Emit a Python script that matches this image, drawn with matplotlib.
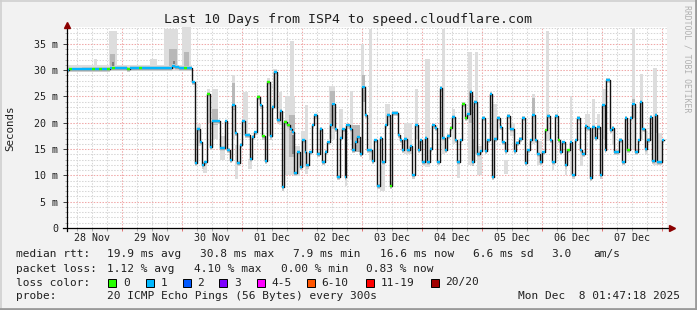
import datetime as dt
import matplotlib
matplotlib.use("Agg")
import matplotlib.pyplot as plt
import matplotlib.dates as mdates
from matplotlib.patches import Rectangle
from matplotlib.lines import Line2D
from matplotlib.transforms import blended_transform_factory

# --- data --------------------------------------------------------------
start = dt.datetime(2025, 11, 28, 1, 47, 18)
span_hours = 240

# hourly-ish median steps: start (hours after start), median (ms), loss (pings lost)
step_hours = [
    0.0, 1.0, 2.0, 6.0, 10.3, 11.2, 13.0, 14.0, 16.3, 17.2, 18.2, 19.2, 24.2, 25.2,
    29.0, 30.0, 42.0, 43.5, 45.0, 47.0, 48.0,
    50.0, 51.3, 52.1, 53.2, 54.0, 55.1, 56.1, 57.3, 58.2, 61.2, 63.3, 64.1, 65.2,
    66.0, 67.3, 68.1, 69.2, 70.0, 71.3, 73.4, 74.2, 75.0, 76.1, 77.4, 78.2, 79.3,
    80.1, 81.4, 82.2, 83.0, 84.1, 85.2, 86.0, 87.1, 88.1, 89.2, 90.0, 91.1, 92.1,
    93.4, 94.2, 95.3, 95.8, 97.1, 98.0, 99.1, 100.1, 101.2, 102.0, 103.3, 104.1,
    105.2, 106.0, 107.3, 108.1, 109.2, 110.0, 111.3, 111.8, 113.2, 114.2, 115.3,
    116.1, 117.2, 118.0, 119.3, 120.1, 122.2, 123.0, 124.1, 125.2, 126.2, 127.3,
    128.1, 129.4, 130.2, 132.4, 133.4, 134.2, 135.0, 136.1, 137.2, 138.2, 139.3,
    140.4, 141.2, 142.0, 143.3, 144.1, 145.2, 146.0, 147.3, 148.1, 149.2, 150.2,
    151.3, 152.1, 153.4, 154.2, 155.3, 156.1, 157.2, 158.0, 159.3, 160.1, 161.2,
    162.2, 163.0, 164.1, 165.2, 166.0, 167.3, 168.1, 169.2, 170.0, 171.0, 172.1,
    173.2, 174.2, 175.3, 176.1, 177.4, 179.0, 179.8, 180.9, 182.0, 183.3, 184.1,
    185.2, 186.2, 187.3, 188.1, 189.4, 190.2, 191.3, 192.1, 193.2, 194.0, 195.3,
    196.4, 197.2, 198.2, 199.3, 200.1, 201.2, 202.0, 203.3, 204.1, 205.4, 206.2,
    207.3, 208.1, 209.2, 210.0, 211.3, 212.1, 213.2, 214.0, 215.3, 215.8, 217.2,
    218.0, 219.0, 220.9, 222.0, 223.3, 224.1, 225.4, 226.2, 227.3, 228.4, 229.2,
    230.2, 231.3, 232.1, 233.2, 234.2, 235.3, 236.1, 238.0,
]
last_hour = 239.0
median_ms = [
    30.1, 30.2, 30.2, 30.3, 30.3, 30.3, 30.3, 30.3, 30.3, 30.4, 30.5, 30.4, 30.3, 30.4,
    30.4, 30.4, 30.8, 30.6, 30.4, 30.5, 30.5,
    27.7, 12.4, 18.9, 16.3, 11.9, 12.5, 25.5, 15.4, 20.3, 15.2, 20.3, 14.9, 12.9,
    23.3, 18.1, 12.4, 15.8, 20.3, 17.7, 13.1, 17.3, 18.2, 24.9, 23.3, 17.4, 12.7,
    27.7, 17.4, 23.0, 29.7, 20.6, 22.3, 7.7, 20.2, 19.5, 18.8, 18.3, 10.4, 14.5,
    11.6, 16.7, 14.4, 11.9, 14.4, 19.5, 21.4, 14.1, 18.9, 12.6, 14.5, 16.3,
    19.5, 23.6, 18.8, 9.7, 17.1, 18.8, 9.7, 19.5, 18.8, 14.8, 16.3,
    17.2, 14.1, 26.8, 21.5, 14.8, 12.7, 16.7, 8.0, 17.1, 12.5, 19.5,
    21.5, 8.0, 21.9, 17.7, 16.8, 14.8, 17.0, 14.8, 15.5, 10.0, 19.6,
    14.8, 16.7, 12.5, 17.1, 12.5, 15.1, 19.5, 19.0, 12.5, 26.6, 17.1,
    14.8, 17.5, 19.0, 21.1, 16.7, 12.6, 16.7, 23.6, 20.9, 21.7, 25.9,
    12.6, 24.0, 14.1, 14.6, 20.9, 14.6, 16.7, 25.5, 9.7, 17.0, 20.9,
    19.2, 16.3, 14.6, 21.3, 18.8, 14.6, 16.2, 17.0, 20.9, 12.4, 14.8,
    16.7, 21.4, 16.7, 14.1, 12.5, 14.4, 18.6, 21.3, 16.7, 12.5, 21.3,
    16.7, 14.5, 16.3, 11.9, 14.8, 16.3, 10.0, 16.7, 20.9, 14.8, 14.1,
    19.4, 19.0, 9.5, 19.2, 17.1, 19.2, 10.0, 23.3, 14.8, 28.2, 18.6,
    19.0, 14.5, 16.8, 12.5, 20.9, 14.8, 20.9, 23.6, 14.5, 16.7, 24.0,
    18.8, 15.0, 16.8, 21.1, 12.7, 21.5, 12.5, 16.7,
]
loss = [
    1, 0, 1, 1, 0, 1, 0, 1, 0, 1, 0, 1, 0, 1,
    0, 1, 1, 1, 1, 0, 1,
    1, 1, 1, 1, 1, 1, 0, 1, 1, 1, 1, 1, 1,
    1, 1, 1, 1, 1, 1, 1, 1, 1, 0, 1, 0, 1,
    0, 1, 1, 1, 1, 1, 1, 0, 0, 1, 1, 1, 1,
    1, 1, 1, 1, 1, 1, 1, 1, 1, 1, 1, 1,
    1, 1, 1, 1, 1, 1, 1, 1, 1, 1, 1,
    1, 1, 1, 1, 1, 1, 1, 1, 1, 1, 1,
    1, 0, 1, 1, 1, 1, 1, 1, 1, 1, 1,
    1, 1, 1, 1, 1, 1, 1, 1, 1, 1, 1,
    1, 1, 0, 1, 1, 1, 1, 0, 0, 1, 1,
    1, 1, 1, 1, 1, 1, 1, 1, 1, 1, 1,
    1, 1, 1, 1, 1, 1, 1, 1, 1, 1, 1,
    1, 1, 1, 1, 1, 1, 0, 1, 1, 1, 1,
    0, 1, 1, 1, 0, 1, 1, 1, 1, 1, 1,
    1, 1, 1, 1, 1, 1, 1, 1, 1, 1, 1,
    1, 1, 1, 1, 1, 0, 1, 1, 1, 1, 1,
    1, 1, 1, 1, 1, 1, 1, 1,
]

# ping spread ("smoke"): from hour, to hour, low ms, high ms, density (0 light .. 2 dense)
smoke_from = [0, 10.8, 17.0, 17.5, 18.0, 33.3, 39.0, 41.0, 42.5, 46.0, 47.0,
              52.1, 54.7, 56.1, 58.0, 58.0, 61.2, 66.0, 66.0, 67.3, 70.7, 72.7,
              80.1, 82.6, 84.9, 87.3, 89.5, 89.0, 90.0, 91.3, 93.7, 95.3, 105.0, 105.5,
              109.0, 111.3, 113.2, 114.2, 117.6, 118.0, 120.8, 125.5, 127.3, 129.4,
              135.0, 139.3, 143.3, 150.0, 154.0, 156.1, 160.6, 161.0, 162.2, 163.2,
              164.1, 170.5, 175.0, 177.4, 186.2, 186.2, 188.1, 191.6, 194.0, 199.3,
              201.2, 205.4, 207.3, 210.0, 212.1, 214.0, 218.0, 226.0, 226.2, 229.2,
              231.3, 234.7, 235.3, 236.1]
smoke_to = [50, 12.0, 20.0, 19.5, 19.0, 36.0, 44.5, 44.0, 43.5, 49.8, 49.0,
            53.8, 56.0, 57.3, 60.7, 60.7, 63.3, 67.3, 67.3, 68.6, 72.7, 74.0,
            81.4, 84.0, 86.2, 91.3, 90.9, 91.3, 91.3, 93.3, 95.3, 96.6, 107.3, 107.3,
            110.5, 112.0, 114.5, 117.2, 118.8, 119.3, 122.2, 127.3, 129.4, 130.2,
            138.0, 140.4, 145.3, 151.3, 155.3, 157.2, 162.2, 162.2, 163.0, 164.4,
            166.0, 172.0, 176.5, 179.5, 187.3, 187.3, 190.2, 193.0, 195.0, 200.3,
            202.3, 206.4, 209.2, 211.3, 213.2, 216.0, 219.2, 227.3, 227.3, 230.5,
            232.5, 236.0, 236.0, 238.0]
smoke_lo = [29.8, 30.0, 30.0, 30.4, 30.4, 30.0, 30.0, 30.5, 30.7, 30.0, 30.5,
            15.5, 10.4, 20.0, 17.0, 19.5, 13.0, 17.0, 22.5, 9.4, 17.6, 11.3,
            17.4, 22.7, 19.5, 10.0, 21.0, 13.5, 14.0, 9.8, 11.5, 10.3, 17.0, 18.8,
            17.0, 8.0, 17.0, 14.5, 14.0, 24.0, 13.0, 7.0, 19.5, 7.5,
            14.0, 17.0, 11.5, 14.0, 16.0, 9.5, 12.0, 20.0, 11.8, 14.0,
            10.0, 17.0, 10.3, 17.5, 16.0, 21.4, 12.0, 16.5, 11.0, 10.0,
            10.0, 11.8, 18.5, 17.0, 19.0, 17.0, 15.7, 15.0, 21.0, 17.0,
            14.0, 12.0, 18.0, 12.0]
smoke_hi = [31.0, 32.2, 37.5, 33.0, 31.5, 32.2, 37.8, 34.0, 31.8, 38.2, 33.5,
            19.8, 12.5, 26.5, 26.4, 22.7, 17.5, 29.0, 27.5, 15.7, 25.8, 13.1,
            28.5, 30.2, 25.8, 25.0, 35.6, 21.5, 18.0, 15.5, 18.5, 23.3, 27.0, 26.1,
            22.7, 10.5, 26.1, 19.5, 35.0, 29.0, 37.8, 12.0, 23.5, 9.0,
            20.0, 26.5, 32.1, 37.8, 22.7, 13.0, 33.5, 26.0, 17.0, 33.4,
            15.5, 23.6, 13.0, 20.0, 25.5, 24.8, 16.5, 37.5, 12.5, 12.0,
            25.1, 14.5, 21.7, 24.6, 21.7, 26.4, 18.8, 37.8, 24.5, 29.3,
            18.5, 30.5, 21.5, 18.0]
smoke_density = [0, 0, 0, 1, 2, 0, 0, 1, 2, 0, 1,
                 0, 0, 0, 0, 1, 0, 0, 1, 0, 0, 0,
                 0, 0, 0, 0, 0, 1, 2, 0, 0, 0, 0, 1,
                 0, 0, 0, 1, 0, 1, 0, 0, 0, 0,
                 0, 0, 0, 0, 0, 0, 0, 1, 1, 0,
                 0, 0, 0, 0, 0, 1, 0, 0, 0, 0,
                 0, 0, 0, 0, 0, 0, 0, 0, 1, 0,
                 0, 0, 1, 0]

loss_labels = ['0', '1', '2', '3', '4-5', '6-10', '11-19', '20/20']
loss_colors = ['#26ff00', '#00b8ff', '#0059ff', '#7e00ff',
               '#ff00ff', '#ff5500', '#ff0000', '#a10000']
day_labels = ['28 Nov', '29 Nov', '30 Nov', '01 Dec', '02 Dec',
              '03 Dec', '04 Dec', '05 Dec', '06 Dec', '07 Dec']
y_ticks = [0, 5, 10, 15, 20, 25, 30, 35]

stats_rtt = ['19.9 ms avg', '30.8 ms max', '7.9 ms min', '16.6 ms now',
             '6.6 ms sd', '3.0', 'am/s']
stats_loss = ['1.12 % avg', '4.10 % max', '0.00 % min', '0.83 % now']
probe_text = '20 ICMP Echo Pings (56 Bytes) every 300s'
stamp_text = 'Mon Dec  8 01:47:18 2025'

# --- drawing ------------------------------------------------------------
W, H = 697, 310
MONO = 'DejaVu Sans Mono'
BG = '#f2f2f2'


def fx(px):
    return px / W


def fy(py):
    return 1 - py / H


def to_num(hours):
    return mdates.date2num(start) + hours / 24.0


fig = plt.figure(figsize=(W / 100, H / 100), dpi=100, facecolor=BG)
ax = fig.add_axes([fx(66.7), fy(228), fx(600), 201 / H])
ax.set_facecolor('white')

t0 = to_num(0)
t1 = to_num(span_hours)
ax.set_xlim(t0, t1)
ax.set_ylim(0, 38.2)

# grid
midnights = [mdates.date2num(dt.datetime(2025, 11, 29) + dt.timedelta(days=i)) for i in range(10)]
six_hours = [mdates.date2num(dt.datetime(2025, 11, 28, 6) + dt.timedelta(hours=6 * i)) for i in range(40)]
six_hours = [t for t in six_hours if t0 < t < t1 and t not in midnights]
ax.set_xticks(midnights)
ax.set_xticks(six_hours, minor=True)
ax.set_xticklabels([])
ax.set_yticks(y_ticks)
ax.set_yticks(range(0, 39), minor=True)
ax.set_yticklabels(['0' if v == 0 else f'{v} m' for v in y_ticks],
                   family=MONO, fontsize=7.2, color='#202020')
ax.grid(which='major', color='#f0a8a8', lw=0.75, ls=(0, (1.4, 1.4)))
ax.grid(which='minor', color='#d6d6d6', lw=0.75, ls=(0, (1.4, 1.4)))
ax.set_axisbelow(True)
ax.tick_params(axis='y', which='major', length=3, width=0.7, color='#404040', pad=3)
ax.tick_params(axis='y', which='minor', length=1.5, width=0.5, color='#909090')
ax.tick_params(axis='x', which='major', length=2.5, width=0.7, color='#e07070')
ax.tick_params(axis='x', which='minor', length=2, width=0.6, color='#a0a0a0')
for s in ax.spines.values():
    s.set_visible(False)

# smoke
shade = ['#dddddd', '#b8b8b8', '#808080']
for lvl in range(3):
    for h0, h1, lo, hi, d in zip(smoke_from, smoke_to, smoke_lo, smoke_hi, smoke_density):
        if d == lvl:
            ax.bar(to_num(h0), hi - lo, width=(h1 - h0) / 24, bottom=lo,
                   align='edge', color=shade[lvl], lw=0, zorder=2)

ends = step_hours[1:] + [last_hour]
starts_num = [to_num(h) for h in step_hours]
widths = [(e - s) / 24 for s, e in zip(step_hours, ends)]
# dense pings right around each median
ax.bar(starts_num, [0.9] * len(median_ms), width=widths,
       bottom=[v - 0.6 for v in median_ms], align='edge', color='#cdcdcd', lw=0, zorder=2.5)

# median line
xs = starts_num + [to_num(last_hour)]
ys = median_ms + [median_ms[-1]]
ax.step(xs, ys, where='post', color='#111111', lw=1.0, zorder=3)
ax.hlines(median_ms, starts_num, [to_num(e) for e in ends],
          colors=[loss_colors[l] for l in loss], lw=1.7, zorder=4)

# axes with arrows
ax.plot([-0.006, 1.004], [0, 0], color='black', lw=0.9, transform=ax.transAxes,
        clip_on=False, zorder=5)
ax.plot([0, 0], [-0.015, 1.0], color='black', lw=0.9, transform=ax.transAxes,
        clip_on=False, zorder=5)
ax.plot(1.009, 0, marker='>', ms=4.5, color='#8b0000', mec='#8b0000',
        transform=ax.transAxes, clip_on=False, zorder=6)
ax.plot(0, 1.012, marker='^', ms=4.5, color='#8b0000', mec='#8b0000',
        transform=ax.transAxes, clip_on=False, zorder=6)

# day labels centred on noon
trans = blended_transform_factory(ax.transData, ax.transAxes)
for i, lab in enumerate(day_labels):
    noon = mdates.date2num(dt.datetime(2025, 11, 28, 12) + dt.timedelta(days=i))
    ax.text(noon, -0.05, lab, transform=trans, ha='center', va='center',
            family=MONO, fontsize=7.2, color='#202020')

# titles
fig.text(fx(348), fy(19), 'Last 10 Days from ISP4 to speed.cloudflare.com',
         ha='center', va='center', family=MONO, fontsize=9.5, color='#202020')
fig.text(fx(10), fy(128), 'Seconds', rotation=90, ha='center', va='center',
         family=MONO, fontsize=7.8, color='#202020')
fig.text(fx(687), fy(59), 'RRDTOOL / TOBI OETIKER', rotation=270, ha='center',
         va='center', family=MONO, fontsize=5.9, color='#b0b0b0')

# legend rows
txt = dict(family=MONO, fontsize=8, color='#202020', va='center', ha='left')
rtt_x = [107, 200, 293, 380, 473, 551, 593]
fig.text(fx(16), fy(254), 'median rtt:', **txt)
for x, s in zip(rtt_x, stats_rtt):
    fig.text(fx(x), fy(254), s, **txt)
loss_x = [107, 194, 281, 366]
fig.text(fx(16), fy(268.5), 'packet loss:', **txt)
for x, s in zip(loss_x, stats_loss):
    fig.text(fx(x), fy(268.5), s, **txt)
fig.text(fx(16), fy(282.5), 'loss color:', **txt)
box_x = [108.3, 145.7, 182.7, 219.3, 256.7, 306.7, 365.7, 430.7]
for x, lab, col in zip(box_x, loss_labels, loss_colors):
    fig.add_artist(Rectangle((fx(x), fy(286.5)), 8 / W, 8 / H, facecolor=col,
                             edgecolor='black', lw=0.7, transform=fig.transFigure))
    fig.text(fx(x + 14.7), fy(282.5), lab, **txt)
fig.text(fx(16), fy(296), 'probe:', **txt)
fig.text(fx(107), fy(296), probe_text, **txt)
fig.text(fx(680), fy(296), stamp_text, **{**txt, 'ha': 'right'})

# 3D frame
fig.add_artist(Line2D([0, 1], [fy(0.5), fy(0.5)], color='#d0d0d0', lw=1.2, transform=fig.transFigure))
fig.add_artist(Line2D([fx(0.5), fx(0.5)], [0, 1], color='#d0d0d0', lw=1.2, transform=fig.transFigure))
fig.add_artist(Line2D([0, 1], [fy(309), fy(309)], color='#9a9a9a', lw=2.0, transform=fig.transFigure))
fig.add_artist(Line2D([fx(696), fx(696)], [0, 1], color='#9a9a9a', lw=2.0, transform=fig.transFigure))

fig.savefig('out.png', dpi=100, facecolor=BG)
